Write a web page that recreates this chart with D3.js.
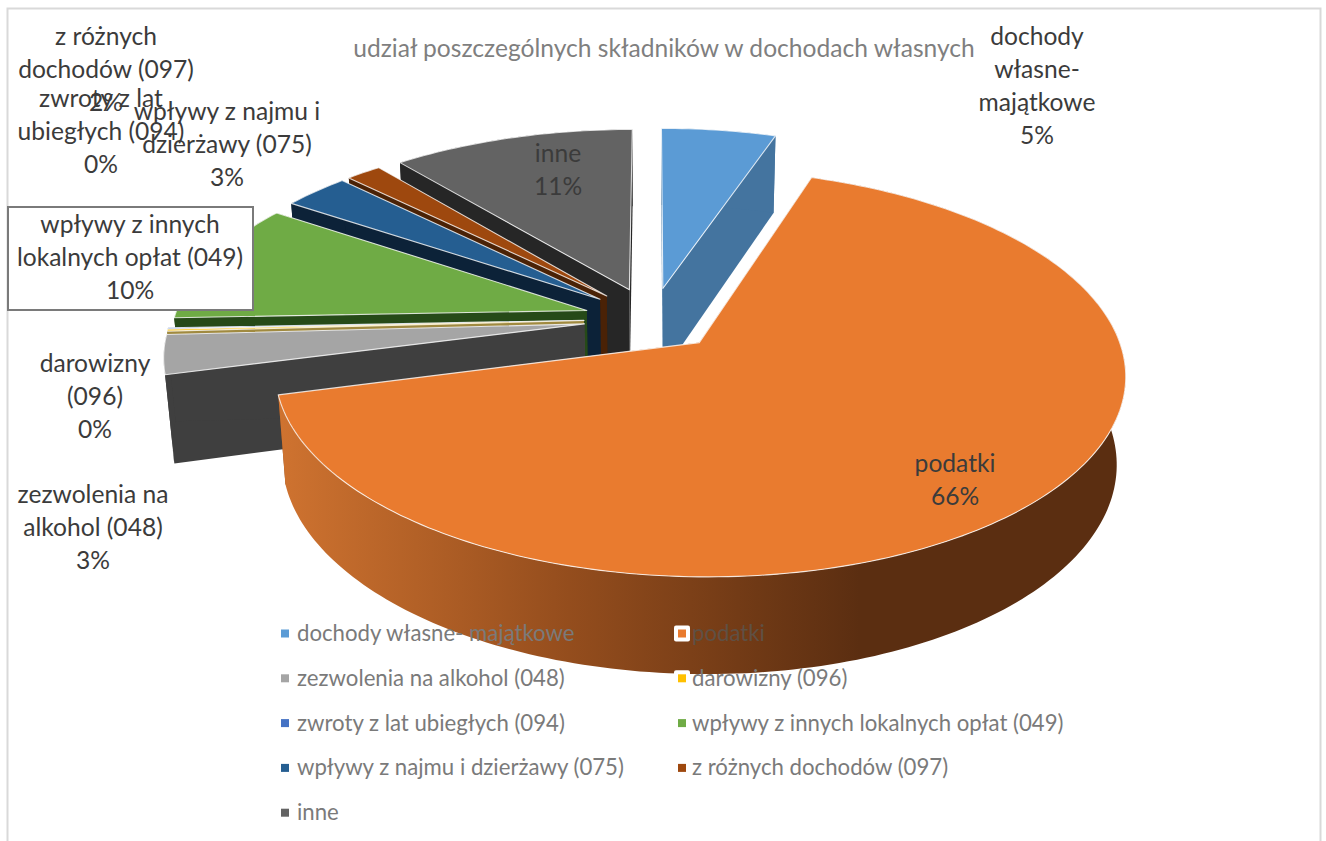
<!DOCTYPE html>
<html><head><meta charset="utf-8">
<script src="https://cdn.jsdelivr.net/npm/d3@7"></script>
<style>html,body{margin:0;padding:0;background:#fff}svg{display:block}text{font-family:Lato,"Open Sans",sans-serif}</style>
</head><body><svg id="c" width="1326" height="841"></svg>
<script>
const chartTitle = "udział poszczególnych składników w dochodach własnych";
const categories = ["dochody własne- majątkowe","podatki","zezwolenia na alkohol (048)","darowizny (096)","zwroty z lat ubiegłych (094)","wpływy z innych lokalnych opłat (049)","wpływy z najmu i dzierżawy (075)","z różnych dochodów (097)","inne"];
const shares = [5.2,65.7,3.2,0.15,0.1,10,3,1.6,11];
const topColors = ["#5b9bd5","#e97b2f","#a5a5a5","#ffc000","#4472c4","#6fab45","#255e91","#9e480e","#636363"];
const wallColors = ["#44749f","url(#orangeWall)","#3f3f3f","#a08a40","#2f5597","#264a18","#0c2238","#4a2206","#262626"];
const labelLines = [["dochody","własne-","majątkowe"],["podatki"],["zezwolenia na","alkohol (048)"],["darowizny","(096)"],["zwroty z lat","ubiegłych (094)"],["wpływy z innych","lokalnych opłat (049)"],["wpływy z najmu i","dzierżawy (075)"],["z różnych","dochodów (097)"],["inne"]];
const labelAnchors = [[1037,45],[955,472],[93,503],[95,372],[101,107],[130,233],[227,120],[106,45],[558,162]];

const W=1326,H=841, cx=652, cy=319, R=413, tilt=Math.asin(0.465), D=6, thick=0.24, explode=0.165;
const svg=d3.select("#c");
const sinT=Math.sin(tilt), cosT=Math.cos(tilt);
function project(X,Y,Z){
  const yy=Y*sinT+Z*cosT, zz=Y*cosT-Z*sinT, s=R*D/(D+zz);
  return [cx+X*s, cy-yy*s];
}
const defs=svg.append("defs");
const grad=defs.append("linearGradient").attr("id","orangeWall").attr("gradientUnits","userSpaceOnUse")
  .attr("x1",278).attr("x2",860).attr("y1",0).attr("y2",0);
grad.append("stop").attr("offset",0).attr("stop-color","#cf7330");
grad.append("stop").attr("offset",0.5).attr("stop-color","#944d1d");
grad.append("stop").attr("offset",1).attr("stop-color","#5b2e11");

svg.append("rect").attr("x",7.5).attr("y",8.5).attr("width",1313).attr("height",840).attr("fill","#fff").attr("stroke","#d9d9d9").attr("stroke-width",2);
svg.append("text").attr("x",664).attr("y",57).attr("text-anchor","middle").attr("font-size",24.6).attr("fill","#7f7f7f").text(chartTitle);

const pie=d3.pie().sort(null).value(d=>d)(shares);
const line=d3.line();
const slices=pie.map((p,i)=>{
  const mid=(p.startAngle+p.endAngle)/2;
  const ox=explode*Math.sin(mid), oy=explode*Math.cos(mid);
  const n=Math.max(2,Math.ceil((p.endAngle-p.startAngle)/0.02));
  const angles=d3.range(n+1).map(k=>p.startAngle+(p.endAngle-p.startAngle)*k/n);
  const ring=z=>angles.map(a=>project(ox+Math.sin(a),oy+Math.cos(a),z));
  return {i,mid,top:ring(0),bot:ring(-thick),a0:project(ox,oy,0),a1:project(ox,oy,-thick)};
}).sort((a,b)=>Math.cos(b.mid)-Math.cos(a.mid));

const g=svg.append("g");
slices.forEach(s=>{
  const el=g.append("g").attr("class","slice");
  const wall=wallColors[s.i];
  const lastT=s.top[s.top.length-1], lastB=s.bot[s.bot.length-1];
  const rad=wall.startsWith("url")?"#8a4a1c":wall;
  el.append("path").attr("d",line([s.a0,s.top[0],s.bot[0],s.a1])+"Z").attr("fill",rad);
  el.append("path").attr("d",line([s.a0,lastT,lastB,s.a1])+"Z").attr("fill",rad);
  el.append("path").attr("d",line(s.top.concat(s.bot.slice().reverse()))+"Z").attr("fill",wall);
  el.append("path").attr("d",line([s.a0].concat(s.top))+"Z").attr("fill",topColors[s.i])
    .attr("stroke","#fff").attr("stroke-opacity",0.8).attr("stroke-width",1.1).attr("stroke-linejoin","round");
});

// legend
const rowStep=44.8;
categories.forEach((c,i)=>{
  const col=i%2, row=Math.floor(i/2);
  const lx=col?678:281, ty=641+row*rowStep;
  if(i===1||i===3) svg.append("rect").attr("x",lx-4).attr("y",ty-15.5).attr("width",16).attr("height",16).attr("rx",2).attr("fill","#fff");
  svg.append("rect").attr("x",lx).attr("y",ty-11.5).attr("width",8).attr("height",8).attr("fill",topColors[i]);
  svg.append("text").attr("x",lx+(col?14:16)).attr("y",ty).attr("font-size",22.2).attr("fill",i===1?"#5f5044":"#7a7a7a").text(c);
});

// framed label
svg.append("rect").attr("x",8).attr("y",207).attr("width",245).attr("height",103).attr("fill","#fff").attr("stroke","#7a7a7a").attr("stroke-width",2);

// data labels
const fs=24.6, lh=33;
categories.forEach((c,i)=>{
  const t=svg.append("text").attr("text-anchor","middle").attr("font-size",fs).attr("fill","#3b3b3b");
  const lines=labelLines[i].concat([Math.round(shares[i])+"%"]);
  const [ax,ay]=labelAnchors[i];
  lines.forEach((l,k)=>t.append("tspan").attr("x",ax).attr("y",ay+k*lh).text(l));
});
</script></body></html>
